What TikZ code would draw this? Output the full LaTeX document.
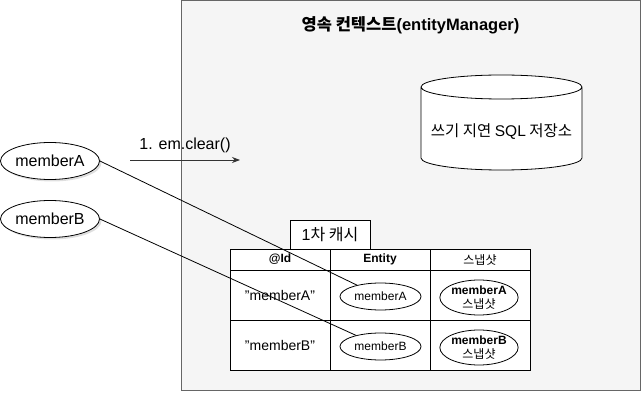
\documentclass[tikz,border=0pt]{standalone}
\usepackage{fontspec}
\setmainfont{Liberation Sans}
\newfontfamily\kr{Noto Sans CJK KR}
\usepackage{tikz}
\usetikzlibrary{arrows.meta, shapes.geometric, shadows}
\definecolor{ctxfill}{HTML}{F5F5F5}
\definecolor{ctxline}{HTML}{666666}
\definecolor{arrowgray}{HTML}{333333}
\newcommand{\fsz}[2]{\fontsize{#1}{#2}\selectfont}

\tikzset{
  member/.style={ellipse, draw, fill=white, minimum width=99pt, minimum height=37pt, inner sep=0pt,
    font=\fsz{16}{19}, drop shadow={opacity=0.25, shadow xshift=2pt, shadow yshift=-2pt}},
  entity/.style={ellipse, draw, fill=white, minimum width=81pt, minimum height=27pt, inner sep=0pt, font=\fsz{12}{14}},
  snap/.style={ellipse, draw, fill=white, minimum width=78pt, minimum height=35pt, inner sep=0pt,
    font=\fsz{12}{14}, align=center},
  cell/.style={draw, fill=white, minimum width=100pt, inner sep=0pt},
  headcell/.style={cell, minimum height=21pt, font=\bfseries\fsz{12}{14}},
  rowcell/.style={cell, minimum height=50pt, font=\fsz{14}{17}}
}

\begin{document}
\begin{tikzpicture}[x=1pt, y=1pt, line width=0.8pt]
\useasboundingbox (0,0) rectangle (643,394);
% persistence context
\draw[ctxline, fill=ctxfill, line width=1pt] (181,4) rectangle (640,393);
\node[font=\bfseries\fsz{16.5}{19}] (title) at (410.5,369) {{\kr 영속 컨텍스트}(entityManager)};

% write-behind store
\draw[fill=white] (421,307) -- (421,236) arc[start angle=180, end angle=360, x radius=80.5, y radius=12]
  -- (582,307) arc[start angle=0, end angle=360, x radius=80.5, y radius=12];
\node[font=\fsz{15.5}{18}] (store) at (501.5,262) {\kr 쓰기 지연 {\normalfont SQL} 저장소};

% members outside
\node[member] (mA) at (50,233) {memberA};
\node[member] (mB) at (50,175) {memberB};

\coordinate (clrS) at (130,234);
\coordinate (clrE) at (240,234);
\draw[arrowgray, -{Stealth[length=8pt, width=6pt]}] (clrS) -- node[above=3pt, black, font=\fsz{16}{19}] (clr) {1. em.clear()} (clrE);

% 1st level cache
\node[draw, fill=white, minimum width=80pt, minimum height=29pt, inner sep=0pt, font=\fsz{16}{19}] (cache) at (330,159.5) {1{\kr 차 캐시}};
\node[headcell] (hId) at (280,134.5) {@Id};
\node[headcell] (hEnt) at (380,134.5) {Entity};
\node[headcell] (hSnap) at (480,134.5) {\mdseries\kr 스냅샷};
\node[rowcell] (idA) at (280,99) {\symbol{34}memberA\symbol{34}};
\node[rowcell] (cEntA) at (380,99) {};
\node[rowcell] (cSnapA) at (480,99) {};
\node[rowcell] (idB) at (280,49) {\symbol{34}memberB\symbol{34}};
\node[rowcell] (cEntB) at (380,49) {};
\node[rowcell] (cSnapB) at (480,49) {};

\node[entity] (eA) at (380.5,97.5) {memberA};
\node[entity] (eB) at (380.5,47.5) {memberB};
\node[snap] (sA) at (479,96.5) {\textbf{memberA}\\{\kr 스냅샷}};
\node[snap] (sB) at (479,46.5) {\textbf{memberB}\\{\kr 스냅샷}};

\draw (mA.east) -- (eA);
\draw (mB.east) -- (eB);
\end{tikzpicture}
\end{document}
